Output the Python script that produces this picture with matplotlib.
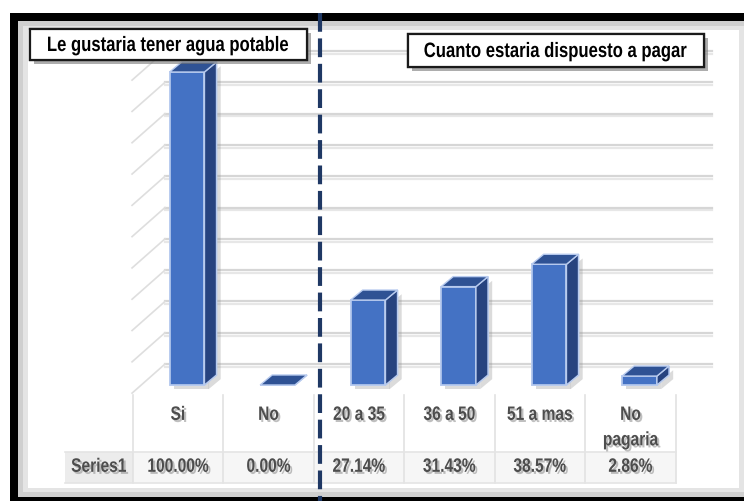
import matplotlib
matplotlib.use("Agg")
import matplotlib.pyplot as plt
import matplotlib.patheffects as pe
from matplotlib.colors import to_rgba
from matplotlib.patches import Rectangle, Polygon
from matplotlib.transforms import Affine2D

plt.rcParams['font.family'] = ['Liberation Sans', 'DejaVu Sans']

categories = ["Si", "No", "20 a 35", "36 a 50", "51 a mas", "No\npagaria"]
values = [100.00, 0.00, 27.14, 31.43, 38.57, 2.86]
value_labels = ["100.00%", "0.00%", "27.14%", "31.43%", "38.57%", "2.86%"]
series_name = "Series1"
left_title = "Le gustaria tener agua potable"
right_title = "Cuanto estaria dispuesto a pagar"


class Narrow(pe.AbstractPathEffect):
    """Squeeze text horizontally about its own centre (fake condensed face)."""

    def __init__(self, sx=0.8, offset=(0, 0), color=None, alpha=None):
        super().__init__(offset)
        self.sx = sx
        self.color = color
        self.alpha = alpha

    def draw_path(self, renderer, gc, tpath, affine, rgbFace=None):
        ext = tpath.get_extents()
        cx = (ext.x0 + ext.x1) / 2
        squeeze = Affine2D().translate(-cx, 0).scale(self.sx, 1).translate(cx, 0)
        gc0 = renderer.new_gc()
        gc0.copy_properties(gc)
        if self.color is not None:
            rgbFace = to_rgba(self.color)
            gc0.set_foreground(rgbFace)
            gc0.set_alpha(self.alpha)
        renderer.draw_path(gc0, tpath, squeeze + affine + self._offset_transform(renderer), rgbFace)
        gc0.restore()


W, H = 744, 501
fig = plt.figure(figsize=(W / 100, H / 100), dpi=100)
ax = fig.add_axes([0, 0, 1, 1])

# one category = 90.5 px, 10 % = 31.3 px
cat_px, pct_px = 90.5, 3.13
x0_px, y0_px = 178, 385
ax.set_xlim((0 - x0_px) / cat_px, (W - x0_px) / cat_px)
ax.set_ylim((y0_px - H) / pct_px, y0_px / pct_px)
ax.axis("off")


def fx(px):
    return px / W


def fy(py):
    return 1 - py / H


def frect(x1, y1, x2, y2, **kw):
    ax.add_patch(Rectangle((fx(x1), fy(y2)), fx(x2) - fx(x1), fy(y1) - fy(y2),
                           transform=ax.transAxes, **kw))


# frame
frect(10, 13, 760, 520, facecolor="black", edgecolor="none", zorder=0)
frect(18, 21, 760, 497, facecolor="#cfcfcf", edgecolor="none", zorder=0)
frect(23, 26, 760, 492, facecolor="#e4e4e4", edgecolor="none", zorder=0)
frect(28, 30, 739, 488, facecolor="white", edgecolor="none", zorder=0)

# back wall / side wall grid
back_dy = 6.7
wall_dx, wall_dy = -0.364, -9.3
grid_right = (712 - x0_px) / cat_px
grid_left = (165 - x0_px) / cat_px
for g in range(0, 101, 10):
    yb = g + back_dy
    ax.plot([grid_left, grid_right], [yb, yb], color="#d6d6d6", lw=1.6, zorder=1,
            path_effects=[pe.SimpleLineShadow(offset=(0, -2), shadow_color="#bbbbbb", alpha=0.35), pe.Normal()])
    ax.plot([grid_left + wall_dx, grid_left], [yb + wall_dy, yb], color="#dedede", lw=1.2, zorder=1)

# table under the chart
n = len(categories)
row_top, row_mid, row_bot = -3.2, -21.4, -31.3
ax.add_patch(Rectangle((-0.5, row_bot), n, row_mid - row_bot, facecolor="#f6f6f6",
                       edgecolor="none", zorder=1))
sx1 = (65 - x0_px) / cat_px
ax.add_patch(Rectangle((sx1, row_bot), -0.5 - sx1, row_mid - row_bot, facecolor="#ececec",
                       edgecolor="none", zorder=1))
for i in range(n + 1):
    ax.plot([i - 0.5, i - 0.5], [row_top, row_bot], color="#e2e2e2", lw=1.2, zorder=1)
ax.plot([sx1, n - 0.5], [row_mid, row_mid], color="#e4e4e4", lw=1.2, zorder=1)
ax.plot([sx1, n - 0.5], [row_bot, row_bot], color="#e4e4e4", lw=1.2, zorder=1)

label_fx = [Narrow(0.8, offset=(1.5, -1.5), color="#8c8c8c", alpha=0.55), Narrow(0.8)]
text_kw = dict(color="#4d4d4d", fontsize=14, fontweight="bold", ha="center",
               path_effects=label_fx, zorder=5)
for i, (cat, lab) in enumerate(zip(categories, value_labels)):
    ax.text(i, -7.0, cat, va="top", linespacing=1.65, **text_kw)
    ax.text(i, -26.3, lab, va="center", **text_kw)
ax.text((sx1 - 0.5) / 2, -26.3, series_name, va="center", **text_kw)

# 3d-looking bars
front, side, top = "#4472c4", "#27437f", "#2f5294"
edge = "#b8cbef"
bar_x = [i + 0.1 for i in range(n)]
bw = 0.385
dx, dy = 0.133, 3.2
bar_shadow = [pe.withSimplePatchShadow(offset=(3, -3), shadow_rgbFace="#888888", alpha=0.3), pe.Normal()]
bars = ax.bar(bar_x, values, width=bw, color=front, edgecolor=edge, linewidth=1.2, zorder=3)
for b in bars:
    b.set_path_effects(bar_shadow)
for x, v in zip(bar_x, values):
    xl, xr = x - bw / 2, x + bw / 2
    ax.add_patch(Polygon([(xr, 0), (xr + dx, dy), (xr + dx, v + dy), (xr, v)],
                         closed=True, facecolor=side, edgecolor=edge, lw=1.0, zorder=3,
                         path_effects=bar_shadow))
    ax.add_patch(Polygon([(xl, v), (xr, v), (xr + dx, v + dy), (xl + dx, v + dy)],
                         closed=True, facecolor=top, edgecolor=edge, lw=1.0, zorder=3))

# divider between the two questions
ax.plot([fx(320), fx(320)], [fy(13), fy(501)], transform=ax.transAxes, color="#1f3864",
        lw=3, dashes=(4.5, 1.6), zorder=6, solid_capstyle="butt")

# question boxes
box_shadow = [pe.withSimplePatchShadow(offset=(3, -3), shadow_rgbFace="#777777", alpha=0.6), pe.Normal()]
for (x1, y1, x2, y2), title in [((30, 29, 307, 60), left_title), ((408, 34, 704, 67), right_title)]:
    frect(x1, y1, x2, y2, facecolor="white", edgecolor="#1a1a1a", lw=1.6, zorder=7,
          path_effects=box_shadow)
    ax.text(fx((x1 + x2) / 2), fy((y1 + y2) / 2) - 0.002, title, transform=ax.transAxes,
            ha="center", va="center", fontsize=15, fontweight="bold", color="black", zorder=8,
            path_effects=[Narrow(0.8)])

fig.savefig("out.png", dpi=100)
